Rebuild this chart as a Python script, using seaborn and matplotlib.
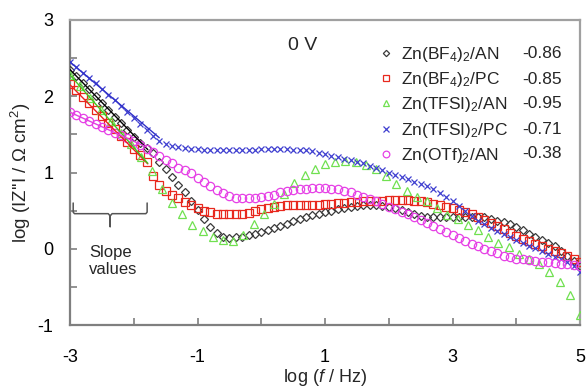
import numpy as np
import pandas as pd
import matplotlib
matplotlib.use("Agg")
import matplotlib.pyplot as plt
from matplotlib.lines import Line2D
import seaborn as sns

# ---------------- data ----------------
X10 = np.round(np.linspace(-3, 5, 81), 2)
X16 = np.round(np.linspace(-3, 5, 51), 2)

bf4_an = [2.35, 2.26, 2.17, 2.09, 2.00, 1.91, 1.82, 1.73, 1.65, 1.56, 1.47, 1.39,
          1.32, 1.25, 1.14, 1.05, 0.94, 0.84, 0.74, 0.63, 0.51, 0.39, 0.29, 0.21, 0.16, 0.14, 0.15, 0.16, 0.18, 0.20,
          0.22, 0.25, 0.27, 0.30, 0.33, 0.36, 0.39, 0.42, 0.44, 0.46,
          0.48, 0.50, 0.52, 0.54, 0.55, 0.56, 0.57, 0.57, 0.57, 0.56,
          0.55, 0.53, 0.51, 0.48, 0.45, 0.43, 0.42, 0.41, 0.41, 0.41,
          0.42, 0.42, 0.42, 0.42, 0.42, 0.41, 0.39, 0.37, 0.35, 0.32,
          0.29, 0.25, 0.20, 0.16, 0.12, 0.07, 0.03, -0.03, -0.09, -0.16, -0.23]

bf4_pc = [2.16, 2.08, 1.99, 1.91, 1.82, 1.74, 1.65, 1.57, 1.48, 1.40, 1.31, 1.23,
          1.14, 0.96, 0.84, 0.76, 0.71, 0.66, 0.61, 0.57, 0.53, 0.50, 0.48, 0.46, 0.45, 0.45, 0.45, 0.46, 0.47, 0.50,
          0.52, 0.54, 0.55, 0.56, 0.57, 0.57, 0.57, 0.58, 0.58, 0.58,
          0.59, 0.59, 0.60, 0.60, 0.61, 0.61, 0.62, 0.62, 0.63, 0.63,
          0.64, 0.64, 0.64, 0.64, 0.63, 0.62, 0.61, 0.59, 0.57, 0.55,
          0.53, 0.51, 0.48, 0.45, 0.42, 0.38, 0.34, 0.30, 0.26, 0.21,
          0.17, 0.13, 0.10, 0.06, 0.03, 0.00, -0.03, -0.06, -0.09, -0.13, -0.17]

tfsi_an = [2.28, 2.13, 1.98, 1.82, 1.67, 1.52, 1.37, 1.20, 1.02, 0.78, 0.60, 0.45, 0.31,
           0.23, 0.16, 0.11, 0.10, 0.18, 0.33, 0.45, 0.59, 0.72, 0.86, 0.97, 1.05, 1.11,
           1.14, 1.15, 1.14, 1.10, 1.04, 0.95, 0.85, 0.76, 0.68, 0.62, 0.53, 0.44, 0.39,
           0.31, 0.24, 0.15, 0.08, 0.02, -0.07, -0.14, -0.20, -0.30, -0.44, -0.60, -0.87]

tfsi_pc = [2.45, 2.38, 2.31, 2.24, 2.17, 2.10, 2.02, 1.95, 1.87, 1.80, 1.72, 1.64,
           1.56, 1.48, 1.41, 1.37, 1.35, 1.33, 1.32, 1.31, 1.31, 1.30, 1.30, 1.30, 1.29, 1.29, 1.29, 1.30, 1.30, 1.30,
           1.31, 1.31, 1.31, 1.31, 1.31, 1.30, 1.30, 1.29, 1.28, 1.26,
           1.24, 1.22, 1.20, 1.18, 1.16, 1.14, 1.12, 1.09, 1.06, 1.03,
           1.00, 0.97, 0.94, 0.91, 0.88, 0.85, 0.82, 0.78, 0.73, 0.68,
           0.62, 0.56, 0.49, 0.43, 0.37, 0.32, 0.27, 0.23, 0.19, 0.15,
           0.11, 0.07, 0.04, 0.01, -0.03, -0.07, -0.11, -0.14, -0.17, -0.22, -0.30]

otf_an = [1.79, 1.75, 1.71, 1.68, 1.64, 1.60, 1.56, 1.52, 1.49, 1.45, 1.41, 1.36,
          1.31, 1.27, 1.21, 1.16, 1.12, 1.06, 1.03, 0.99, 0.93, 0.88, 0.82, 0.77, 0.73, 0.69, 0.67, 0.67, 0.67, 0.67,
          0.68, 0.69, 0.71, 0.74, 0.76, 0.77, 0.78, 0.79, 0.80, 0.80,
          0.80, 0.79, 0.78, 0.76, 0.74, 0.71, 0.68, 0.65, 0.62, 0.59,
          0.55, 0.52, 0.48, 0.45, 0.41, 0.38, 0.34, 0.30, 0.26, 0.22,
          0.18, 0.14, 0.10, 0.06, 0.03, 0.00, -0.03, -0.06, -0.09, -0.11,
          -0.13, -0.14, -0.15, -0.16, -0.17, -0.18, -0.19, -0.20, -0.20, -0.21, -0.22]

labels = ['Zn(BF$_4$)$_2$/AN', 'Zn(BF$_4$)$_2$/PC', 'Zn(TFSI)$_2$/AN',
          'Zn(TFSI)$_2$/PC', 'Zn(OTf)$_2$/AN']
slopes = [-0.86, -0.85, -0.95, -0.71, -0.38]
slope_text = ['-0.86', '-0.85', '-0.95', '-0.71', '-0.38']
fit_y0 = [2.35, 2.15, 2.28, 2.45, 1.79]      # fitted value at log f = -3
fit_x_end = [-1.78, -1.78, -1.78, -1.6, -1.8]

series_x = [X10, X10, X16, X10, X10]
series_y = [bf4_an, bf4_pc, tfsi_an, tfsi_pc, otf_an]

# ---------------- style ----------------
markers = ['D', 's', '^', 'x', 'o']
msizes = [4.0, 5.2, 6.0, 5.0, 6.0]
mcolors = ['#3a3a3a', '#e8281e', '#70e050', '#3f3fd0', '#e640e6']
lcolors = ['#000000', '#ee2020', '#40c820', '#3030c8', '#e040e0']

sns.set_style('ticks')
plt.rcParams['font.family'] = ['Liberation Sans', 'DejaVu Sans']
plt.rcParams['mathtext.fontset'] = 'custom'
plt.rcParams['mathtext.rm'] = 'Liberation Sans'
plt.rcParams['mathtext.it'] = 'Liberation Sans:italic'
plt.rcParams['mathtext.bf'] = 'Liberation Sans:bold'

W, H = 586, 391
fig = plt.figure(figsize=(W / 100, H / 100), dpi=100)
ax = fig.add_axes([70 / W, 1 - 325 / H, 510 / W, 305 / H])

for i in range(5):
    df = pd.DataFrame({'x': series_x[i], 'y': series_y[i]})
    sns.lineplot(data=df, x='x', y='y', ax=ax, linestyle='', marker=markers[i],
                 markersize=msizes[i], markerfacecolor='none',
                 markeredgecolor=mcolors[i], markeredgewidth=0.9,
                 color=mcolors[i], estimator=None, sort=False, zorder=3)

for i in range(5):
    fx = np.array([-3.0, fit_x_end[i]])
    fy = fit_y0[i] + slopes[i] * (fx + 3.0)
    sns.lineplot(x=fx, y=fy, ax=ax, color=lcolors[i], linewidth=1.0,
                 estimator=None, sort=False, zorder=4)

ax.set_xlim(-3, 5)
ax.set_ylim(-1, 3)
ax.set_xticks(np.arange(-3, 6, 1))
ax.set_xticklabels(['-3', '', '-1', '', '1', '', '3', '', '5'])
ax.set_yticks(np.arange(-1, 3.01, 0.5))
ax.set_yticklabels(['-1', '', '0', '', '1', '', '2', '', '3'])
spine_c = '#7f7f7f'
for s in ax.spines.values():
    s.set_color(spine_c)
    s.set_linewidth(1.6)
ax.spines['top'].set_color('#a0a0a0')
ax.spines['right'].set_color('#a0a0a0')
ax.tick_params(axis='both', direction='in', length=5, width=1.2, color=spine_c,
               labelsize=13, labelcolor='black')
ax.tick_params(axis='x', pad=17)
ax.tick_params(axis='y', pad=12)
ax.set_xlabel('log ($\\it{f}$ / Hz)', fontsize=13, labelpad=1)
ax.set_ylabel('log (IZ\'\'I / Ω cm$^2$)', fontsize=13.5, labelpad=3)

# legend
handles = [Line2D([], [], linestyle='', marker=markers[i], markersize=msizes[i] * 0.8,
                  markerfacecolor='none', markeredgecolor=mcolors[i], markeredgewidth=0.9)
           for i in range(5)]
fig.legend(handles, labels, loc='upper left', bbox_to_anchor=(377 / W, 1 - 45 / H),
           bbox_transform=fig.transFigure, frameon=False, fontsize=12.5,
           handlelength=1.0, handletextpad=0.4, borderpad=0, borderaxespad=0,
           labelspacing=0.36)
row_y = [54, 79, 104, 129, 154]
for i in range(5):
    fig.text(562 / W, 1 - row_y[i] / H, slope_text[i], ha='right', va='center',
             fontsize=12.5)

fig.text(303 / W, 1 - 45 / H, '0 V', ha='center', va='center', fontsize=14)

# bracket annotation for slope values
bx = [-2.95, -2.95, -2.93, -2.4, -2.37, -2.37, -2.37, -2.34, -1.81, -1.79, -1.79]
by = [0.60, 0.48, 0.46, 0.46, 0.43, 0.29, 0.43, 0.46, 0.46, 0.48, 0.60]
ax.plot(bx, by, color='#555555', linewidth=1.1, zorder=2)
ax.text(-2.7, -0.16, 'Slope\nvalues', fontsize=12, ha='left', va='center',
        linespacing=1.2)

fig.savefig('out.png', dpi=100)
